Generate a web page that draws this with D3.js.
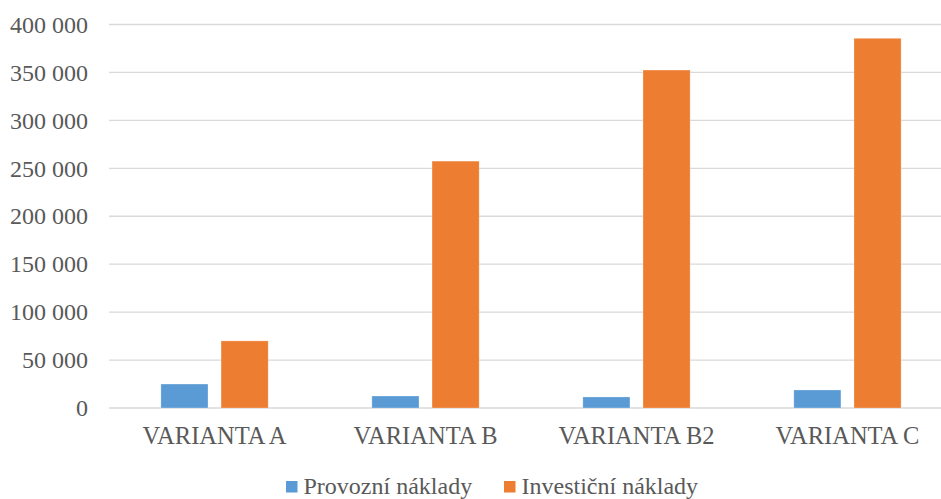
<!DOCTYPE html>
<html>
<head>
<meta charset="utf-8">
<script src="https://cdn.jsdelivr.net/npm/d3@7"></script>
<style>
  html, body { margin: 0; padding: 0; background: #fff; overflow: hidden; }
  svg text { font-family: "Liberation Serif", "Times New Roman", serif; fill: #595959; }
</style>
</head>
<body>
<svg id="chart" width="941" height="499"></svg>
<script>
// Categories and series
const categories = ["VARIANTA A", "VARIANTA B", "VARIANTA B2", "VARIANTA C"];
const seriesNames = ["Provozní náklady", "Investiční náklady"];
const provozni = [25000, 12500, 11500, 18800];
const investicni = [70000, 257500, 352500, 385600];
const yTicks = [0, 50000, 100000, 150000, 200000, 250000, 300000, 350000, 400000];
const colors = ["#5B9BD5", "#ED7D31"];

const seriesValues = [provozni, investicni];
const rows = categories.map((c, i) => ({
  cat: c,
  vals: seriesNames.map((s, j) => ({ key: s, value: seriesValues[j][i], idx: j }))
}));

const svg = d3.select("#chart");
// plot area runs slightly past the right edge of the canvas
const plotLeft = 109, plotRight = 953, plotTop = 24.5, plotBottom = 408;

const y = d3.scaleLinear().domain([0, 400000]).range([plotBottom, plotTop]);
const x0 = d3.scaleBand().domain(categories).range([plotLeft, plotRight])
  .paddingInner(0.4915).paddingOuter(0.246);
const x1 = d3.scaleBand().domain(seriesNames).range([0, x0.bandwidth()])
  .paddingInner(0.217).paddingOuter(0);

const fmt = v => d3.format(",")(v).replace(/,/g, " ");

// Gridlines
svg.append("g").selectAll("line").data(yTicks).join("line")
  .attr("x1", plotLeft).attr("x2", plotRight)
  .attr("y1", d => y(d)).attr("y2", d => y(d))
  .attr("stroke", "#d9d9d9").attr("stroke-width", 1.3);

// Y axis labels
const yAxis = d3.axisLeft(y).tickValues(yTicks).tickFormat(fmt).tickSize(0).tickPadding(0);
const ya = svg.append("g").attr("transform", `translate(88,0)`).call(yAxis);
ya.select(".domain").remove();
ya.selectAll("text")
  .attr("font-size", "24px")
  .attr("fill", "#595959")
  .style("font-family", '"Liberation Serif", "Times New Roman", serif');

// Bars
const groups = svg.append("g").selectAll("g").data(rows).join("g")
  .attr("transform", d => `translate(${x0(d.cat)},0)`);
groups.selectAll("rect").data(d => d.vals).join("rect")
  .attr("x", d => x1(d.key))
  .attr("width", x1.bandwidth())
  .attr("y", d => y(d.value))
  .attr("height", d => y(0) - y(d.value))
  .attr("fill", d => colors[d.idx])
  .attr("stroke", "#ffffff").attr("stroke-opacity", 0.35).attr("stroke-width", 0.75);

// Category labels
const xAxis = d3.axisBottom(x0).tickSize(0).tickPadding(0);
const xa = svg.append("g").attr("transform", `translate(0,${plotBottom})`).call(xAxis);
xa.select(".domain").remove();
xa.selectAll("text")
  .attr("y", 36).attr("dy", 0)
  .attr("font-size", "24.5px")
  .attr("fill", "#595959")
  .style("font-family", '"Liberation Serif", "Times New Roman", serif');

// Legend
const legendX = [286, 504];
const legend = svg.append("g").selectAll("g").data(seriesNames).join("g")
  .attr("transform", (d, i) => `translate(${legendX[i]},481)`);
legend.append("rect").attr("width", 11.5).attr("height", 11.5)
  .attr("fill", (d, i) => colors[i]);
legend.append("text").attr("x", 17.5).attr("y", 12.5)
  .attr("font-size", "24px").text(d => d);
</script>
</body>
</html>
